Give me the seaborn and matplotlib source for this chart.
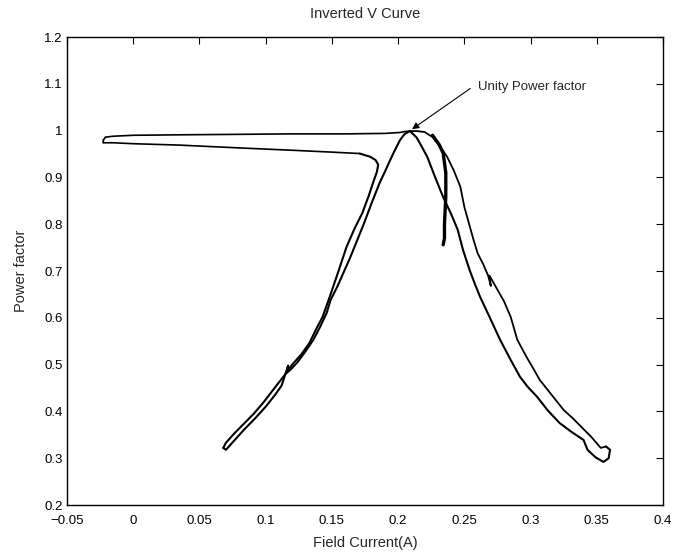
import matplotlib
matplotlib.use("Agg")
import matplotlib.pyplot as plt
import seaborn as sns
import pandas as pd

# ---- traced data (Field current A, Power factor) ----
upper_x = [-0.0225, -0.021, -0.015, 0.0, 0.035, 0.08, 0.12, 0.16, 0.19, 0.2015, 0.205, 0.209]
upper_y = [0.980, 0.986, 0.988, 0.990, 0.991, 0.992, 0.993, 0.993, 0.994, 0.996, 0.998, 0.999]

right_down_x = [0.209, 0.214, 0.218, 0.222, 0.228, 0.234, 0.240, 0.245, 0.249, 0.254, 0.258,
                0.262, 0.269, 0.277, 0.285, 0.292, 0.298, 0.305, 0.313, 0.322, 0.331, 0.340,
                0.343, 0.349, 0.355, 0.359, 0.360, 0.357]
right_down_y = [0.999, 0.985, 0.965, 0.944, 0.900, 0.858, 0.822, 0.788, 0.745, 0.702, 0.672,
                0.644, 0.602, 0.553, 0.510, 0.474, 0.452, 0.431, 0.402, 0.375, 0.356, 0.339,
                0.318, 0.302, 0.292, 0.300, 0.318, 0.325]

right_up_x = [0.357, 0.353, 0.346, 0.339, 0.332, 0.325, 0.316, 0.307, 0.302, 0.297, 0.290,
              0.285, 0.280, 0.275, 0.269, 0.270, 0.268, 0.264, 0.260, 0.257, 0.250, 0.247,
              0.242, 0.237, 0.232, 0.226, 0.220, 0.214, 0.209]
right_up_y = [0.325, 0.322, 0.345, 0.365, 0.385, 0.403, 0.435, 0.467, 0.492, 0.516, 0.553,
              0.602, 0.635, 0.660, 0.690, 0.668, 0.690, 0.716, 0.738, 0.766, 0.837, 0.880,
              0.915, 0.944, 0.965, 0.986, 0.997, 0.999, 0.999]

left_down_x = [0.209, 0.205, 0.2015, 0.197, 0.194, 0.190, 0.186, 0.180, 0.174, 0.169, 0.164,
               0.159, 0.154, 0.149, 0.146, 0.141, 0.136, 0.130, 0.124, 0.119, 0.115, 0.110,
               0.104, 0.098, 0.091, 0.083, 0.076, 0.070, 0.068]
left_down_y = [0.999, 0.993, 0.980, 0.955, 0.937, 0.912, 0.888, 0.845, 0.800, 0.765, 0.730,
               0.698, 0.666, 0.638, 0.610, 0.580, 0.553, 0.528, 0.505, 0.490, 0.480, 0.462,
               0.440, 0.418, 0.395, 0.372, 0.352, 0.333, 0.322]

left_up_x = [0.068, 0.070, 0.077, 0.084, 0.092, 0.100, 0.107, 0.112, 0.117, 0.116, 0.120,
             0.127, 0.133, 0.138, 0.143, 0.149, 0.155, 0.161, 0.167, 0.173, 0.178, 0.181,
             0.184, 0.185, 0.183, 0.179, 0.171]
left_up_y = [0.322, 0.318, 0.340, 0.362, 0.385, 0.410, 0.435, 0.455, 0.498, 0.485, 0.500,
             0.522, 0.546, 0.575, 0.602, 0.650, 0.700, 0.751, 0.790, 0.824, 0.862, 0.888,
             0.912, 0.927, 0.937, 0.944, 0.951]

lower_x = [0.171, 0.15, 0.12, 0.08, 0.035, 0.0, -0.015, -0.0228, -0.0225]
lower_y = [0.951, 0.954, 0.958, 0.963, 0.969, 0.972, 0.974, 0.974, 0.980]

spur_x = [0.226, 0.231, 0.234, 0.236, 0.236, 0.235, 0.235, 0.234]
spur_y = [0.990, 0.970, 0.952, 0.910, 0.860, 0.800, 0.770, 0.756]

x_ticks = [-0.05, 0, 0.05, 0.1, 0.15, 0.2, 0.25, 0.3, 0.35, 0.4]
x_tick_labels = ["\u22120.05", "0", "0.05", "0.1", "0.15", "0.2", "0.25", "0.3", "0.35", "0.4"]
y_ticks = [0.2, 0.3, 0.4, 0.5, 0.6, 0.7, 0.8, 0.9, 1.0, 1.1, 1.2]
y_tick_labels = ["0.2", "0.3", "0.4", "0.5", "0.6", "0.7", "0.8", "0.9", "1", "1.1", "1.2"]

title = "Inverted V Curve"
xlabel = "Field Current(A)"
ylabel = "Power factor"
note = "Unity Power factor"
note_target = (0.2105, 1.003)
note_pos = (0.260, 1.093)

# ---- style ----
sns.set_theme(style="white")
plt.rcParams["font.family"] = ["Liberation Sans", "DejaVu Sans"]

fig = plt.figure(figsize=(6.85, 5.54), dpi=100)
ax = fig.add_axes([67 / 685, 1 - 505 / 554, 596 / 685, 468 / 554])

segments = [
    (upper_x, upper_y, 1.2),
    (right_down_x, right_down_y, 1.5),
    (right_up_x, right_up_y, 1.3),
    (left_down_x, left_down_y, 1.5),
    (left_up_x, left_up_y, 1.5),
    (lower_x, lower_y, 1.2),
    (spur_x, spur_y, 2.4),
]
for sx, sy, lw in segments:
    df = pd.DataFrame({"x": sx, "y": sy})
    sns.lineplot(data=df, x="x", y="y", sort=False, estimator=None,
                 color="black", linewidth=lw, ax=ax)

ax.set_xlim(-0.05, 0.4)
ax.set_ylim(0.2, 1.2)
ax.set_xticks(x_ticks)
ax.set_xticklabels(x_tick_labels)
ax.set_yticks(y_ticks)
ax.set_yticklabels(y_tick_labels)
ax.tick_params(direction="in", length=5, width=0.8, top=True, right=True,
               labelsize=9.5, colors="black")
ax.tick_params(axis="x", pad=7)
ax.tick_params(axis="y", pad=3)
for s in ax.spines.values():
    s.set_visible(True)
    s.set_color("black")
    s.set_linewidth(1.0)

ax.set_title(title, fontsize=10.5, pad=14)
ax.set_xlabel(xlabel, fontsize=10.5, labelpad=7)
ax.set_ylabel(ylabel, fontsize=10.5, labelpad=12)

ax.annotate("", xy=note_target, xytext=(0.2545, 1.090),
            arrowprops=dict(arrowstyle="-|>", color="black", lw=0.8,
                            mutation_scale=10, shrinkA=0, shrinkB=0))
ax.text(note_pos[0], note_pos[1], note, fontsize=9.5, ha="left", va="center")

fig.savefig("out.png", dpi=100)
